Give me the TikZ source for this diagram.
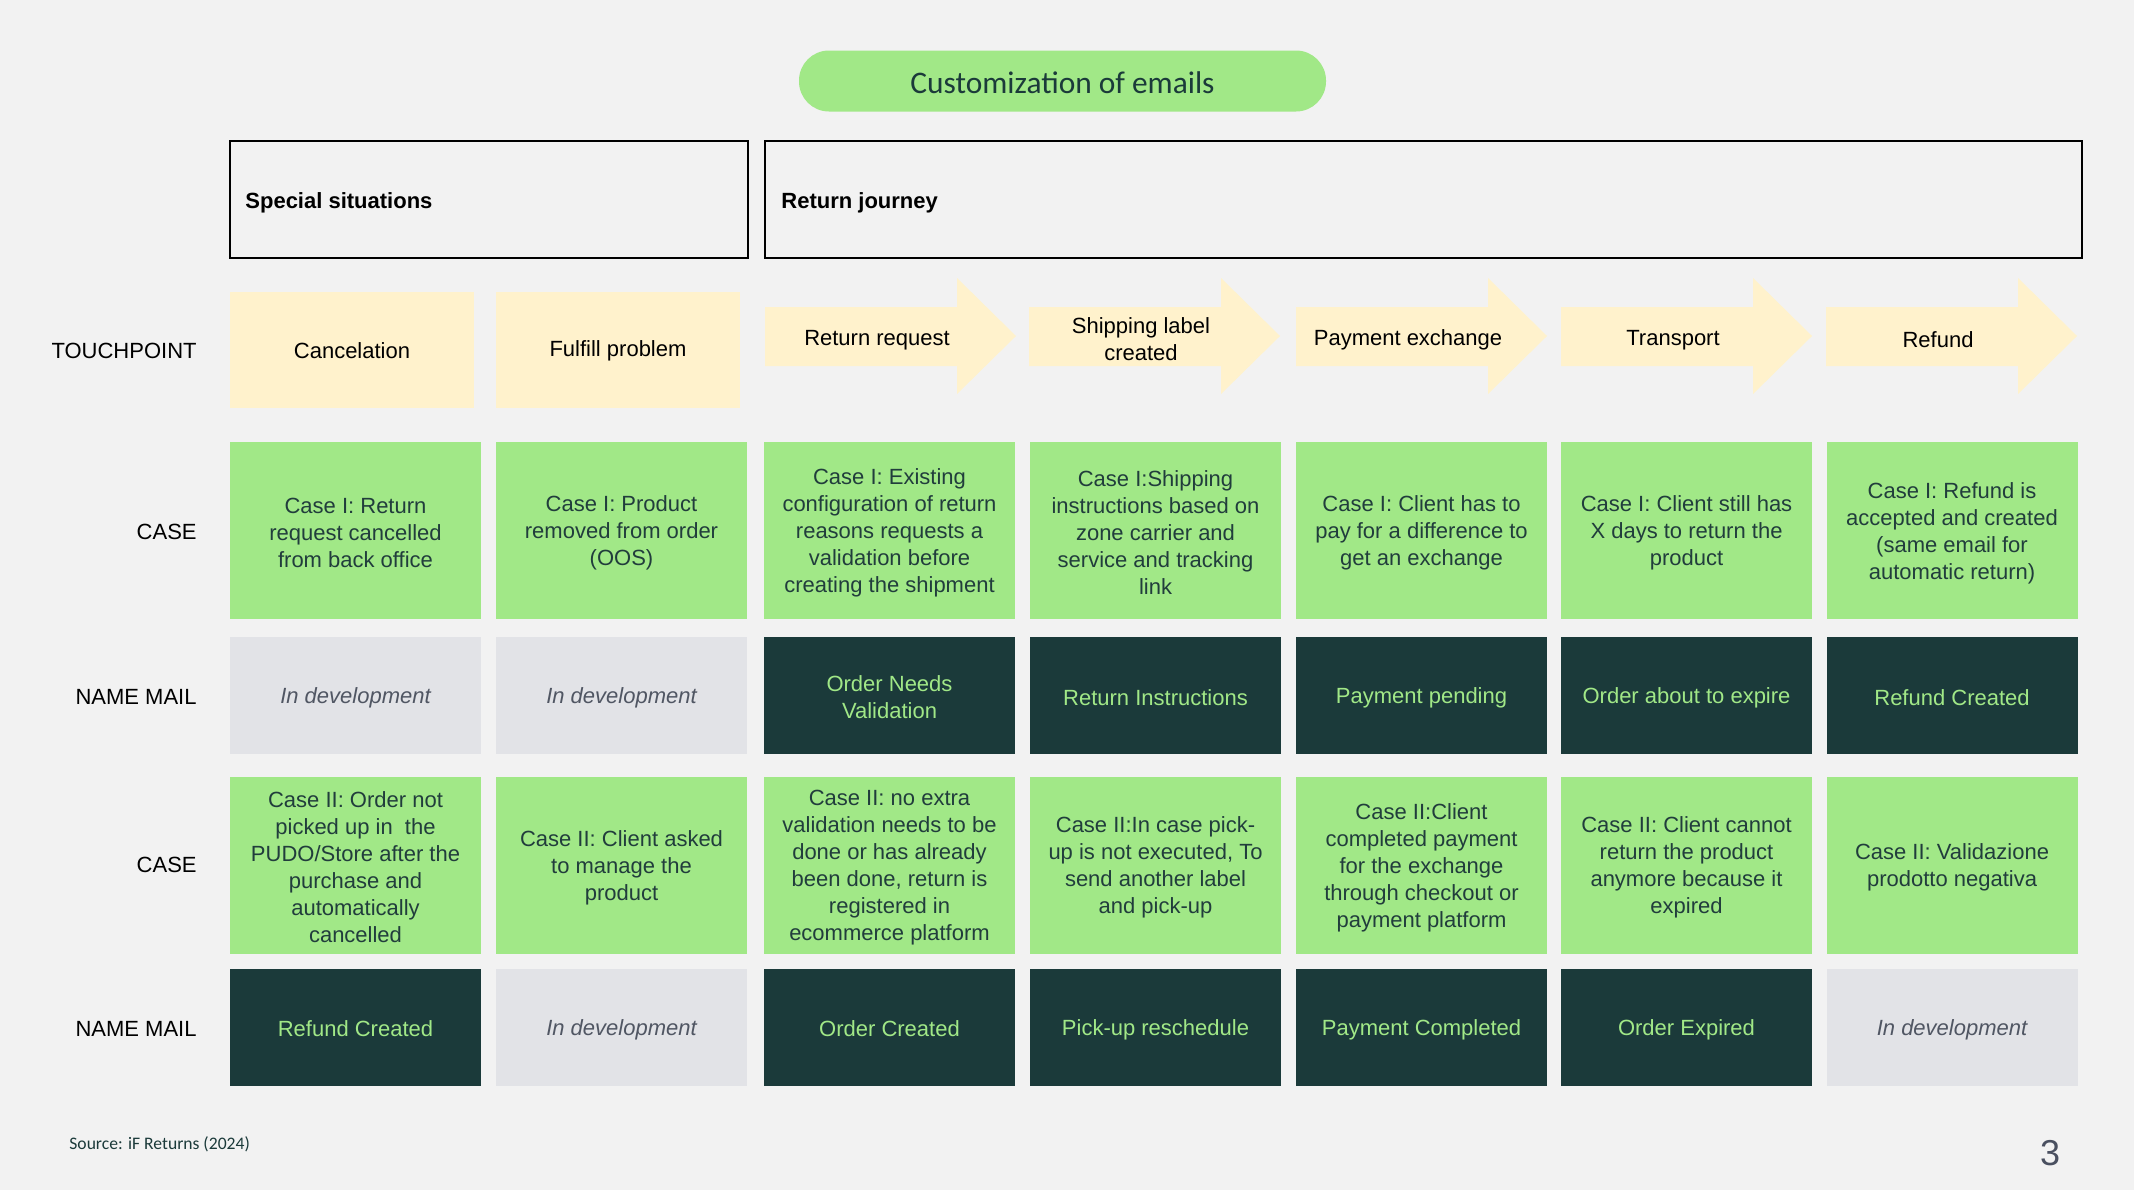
\documentclass[tikz,border=0pt]{standalone}
\usepackage{fontspec}
\setmainfont{Liberation Sans}
\newfontfamily\carlito{Carlito}
\newcommand\mystrutx{\rule[-1pt]{0pt}{11.5pt}}
\definecolor{bgc}{HTML}{F2F2F2}
\definecolor{lgreen}{HTML}{A1E887}
\definecolor{dteal}{HTML}{1B3A3A}
\definecolor{txtdark}{HTML}{213D3C}
\definecolor{cream}{HTML}{FFF2CC}
\definecolor{cgray}{HTML}{E2E3E7}
\definecolor{gtext}{HTML}{505663}
\definecolor{pnum}{HTML}{4A5060}
\begin{document}
\begin{tikzpicture}[x=0.5pt,y=-0.5pt,
  basefont/.style={font=\fontsize{11}{13.5}\selectfont},
  struts/.style={execute at begin node=\mystrutx, execute at end node=\mystrutx},
  cell/.style={rectangle, minimum width=125.5pt, inner sep=0pt, align=center, basefont, text=txtdark, struts},
  casecell/.style={cell, fill=lgreen, minimum height=88.5pt},
  namedark/.style={cell, fill=dteal, text=lgreen, minimum height=58.5pt},
  namegray/.style={cell, fill=cgray, text=gtext, font=\fontsize{11}{13.5}\selectfont\itshape, minimum height=58.5pt},
  tprect/.style={rectangle, fill=cream, minimum width=122pt, minimum height=58pt, inner sep=0pt, basefont, text=black, align=center},
  tparrow/.style={fill=cream},
  tptext/.style={inner sep=0pt, basefont, text=black, align=center, struts},
  rowlabel/.style={anchor=east, inner sep=0pt, basefont, text=black},
  hdrbox/.style={draw=black, line width=1pt},
  hdrtext/.style={anchor=west, inner sep=0pt, font=\fontsize{11}{13.5}\selectfont\bfseries, text=black}
]
\useasboundingbox (0,0) rectangle (2134,1190);
\fill[bgc] (0,0) rectangle (2134,1190);

% title
\node[rectangle, rounded corners=15pt, fill=lgreen, minimum width=263.5pt, minimum height=30.5pt, inner sep=0pt,
  font=\carlito\fontsize{15.7}{18}\selectfont, text=dteal] (title) at (1062.5,81) {};
\node[inner sep=0pt, font=\carlito\fontsize{15.7}{18}\selectfont, text=dteal] (titletext) at (1062.5,82.5) {Customization of emails};

% header boxes
\draw[hdrbox] (230,141) rectangle (748,258);
\node[hdrtext] (special) at (245,203) {Special situations};
\draw[hdrbox] (765,141) rectangle (2082,258);
\node[hdrtext] (journey) at (781,203) {Return journey};

% row labels
\node[rowlabel] (lbltp) at (197,351) {TOUCHPOINT};
\node[rowlabel] (lblcase1) at (197,532) {CASE};
\node[rowlabel] (lblname1) at (197,697) {NAME MAIL};
\node[rowlabel] (lblcase2) at (197,865) {CASE};
\node[rowlabel] (lblname2) at (197,1029) {NAME MAIL};

% touchpoints
\node[tprect] (tp1) at (352,350) {};
\node[tptext] at (352,348.6) {Cancelation};
\node[tprect] (tp2) at (618,350) {};
\node[tptext] at (618,348.6) {Fulfill problem};
\foreach \L/\nm/\txt in {765/tp3/{Return request},1029/tp4/{\mystrutx Shipping label\\created},1296/tp5/{Payment exchange},1561/tp6/{Transport},1826/tp7/{Refund}}{
  \fill[tparrow] (\L,307) -- ({\L+192},307) -- ({\L+192},278) -- ({\L+251},336) -- ({\L+192},394) -- ({\L+192},366) -- (\L,366) -- cycle;
  \node[tptext] (\nm) at ({\L+112},337.5) {\txt};
}

% CASE row 1
\node[casecell] (c1a) at (355.5,530.5) {\mystrutx Case I: Return\\request cancelled\\from back office};
\node[casecell] (c2a) at (621.5,530.5) {\mystrutx Case I: Product\\removed from order\\(OOS)};
\node[casecell] (c3a) at (889.5,530.5) {\mystrutx Case I: Existing\\configuration of return\\reasons requests a\\validation before\\creating the shipment};
\node[casecell] (c4a) at (1155.5,530.5) {\mystrutx Case I:Shipping\\instructions based on\\zone carrier and\\service and tracking\\link};
\node[casecell] (c5a) at (1421.5,530.5) {\mystrutx Case I: Client has to\\pay for a difference to\\get an exchange};
\node[casecell] (c6a) at (1686.5,530.5) {\mystrutx Case I: Client still has\\X days to return the\\product};
\node[casecell] (c7a) at (1952,530.5) {\mystrutx Case I: Refund is\\accepted and created\\(same email for\\automatic return)};

% NAME MAIL row 1
\node[namegray] (n1a) at (355.5,695.5) {In development};
\node[namegray] (n2a) at (621.5,695.5) {In development};
\node[namedark] (n3a) at (889.5,695.5) {\mystrutx Order Needs\\Validation};
\node[namedark] (n4a) at (1155.5,695.5) {Return Instructions};
\node[namedark] (n5a) at (1421.5,695.5) {Payment pending};
\node[namedark] (n6a) at (1686.5,695.5) {Order about to expire};
\node[namedark] (n7a) at (1952,695.5) {Refund Created};

% CASE row 2
\node[casecell] (c1b) at (355.5,865) {\mystrutx Case II: Order not\\picked up in\ \ the\\PUDO/Store after the\\purchase and\\automatically\\cancelled};
\node[casecell] (c2b) at (621.5,865) {\mystrutx Case II: Client asked\\to manage the\\product};
\node[casecell] (c3b) at (889.5,865) {\mystrutx Case II: no extra\\validation needs to be\\done or has already\\been done, return is\\registered in\\ecommerce platform};
\node[casecell] (c4b) at (1155.5,865) {\mystrutx Case II:In case pick-\\up is not executed, To\\send another label\\and pick-up};
\node[casecell] (c5b) at (1421.5,865) {\mystrutx Case II:Client\\completed payment\\for the exchange\\through checkout or\\payment platform};
\node[casecell] (c6b) at (1686.5,865) {\mystrutx Case II: Client cannot\\return the product\\anymore because it\\expired};
\node[casecell] (c7b) at (1952,865) {\mystrutx Case II: Validazione\\prodotto negativa};

% NAME MAIL row 2
\node[namedark] (n1b) at (355.5,1027) {Refund Created};
\node[namegray] (n2b) at (621.5,1027) {In development};
\node[namedark] (n3b) at (889.5,1027) {Order Created};
\node[namedark] (n4b) at (1155.5,1027) {Pick-up reschedule};
\node[namedark] (n5b) at (1421.5,1027) {Payment Completed};
\node[namedark] (n6b) at (1686.5,1027) {Order Expired};
\node[namegray] (n7b) at (1952,1027) {In development};

% footer
\node[anchor=west, inner sep=0pt, font=\carlito\fontsize{8.8}{10}\selectfont, text=dteal] (source) at (69,1144) {Source: iF Returns (2024)};
\node[inner sep=0pt, font=\fontsize{18}{20}\selectfont, text=pnum] (pagenum) at (2050,1153) {3};
\end{tikzpicture}
\end{document}
